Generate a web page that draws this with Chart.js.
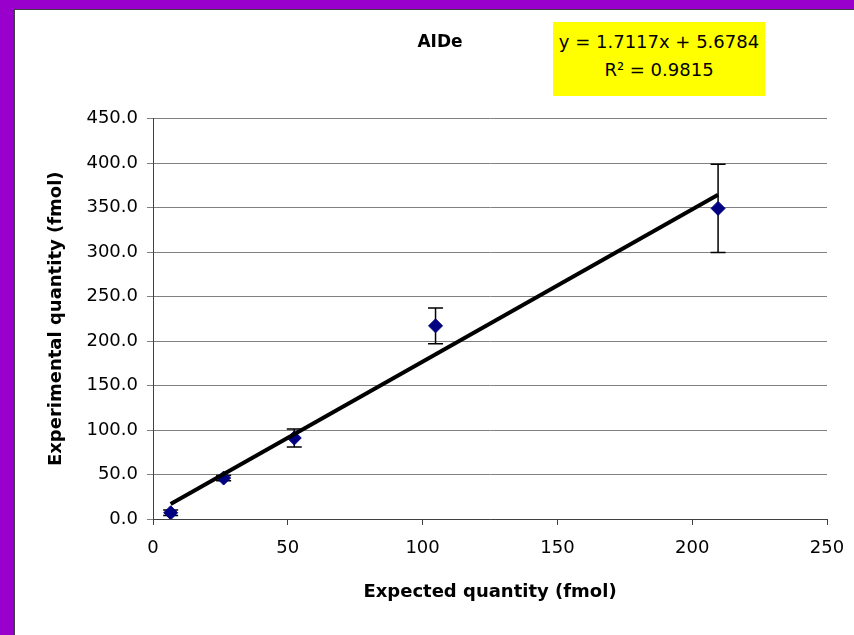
<!DOCTYPE html>
<html><head><meta charset="utf-8">
<script src="https://cdn.jsdelivr.net/npm/chart.js@4.4.0/dist/chart.umd.min.js"></script>
<style>
html,body{margin:0;padding:0;width:854px;height:635px;overflow:hidden;background:#9900CC;}
#inner{position:absolute;left:13px;top:9px;width:900px;height:700px;background:#fff;border-left:2px solid #404040;border-top:1px solid #404040;}
#wrap{position:absolute;left:0;top:0;width:854px;height:635px;}
#title{position:absolute;left:390px;width:100px;top:30px;text-align:center;font-family:"DejaVu Sans";font-weight:bold;font-size:17px;line-height:22px;color:#000;}
#eq{position:absolute;left:553px;top:22px;width:212px;height:74px;background:#FFFF00;font-family:"DejaVu Sans";font-size:18px;line-height:28px;text-align:center;padding-top:6px;box-sizing:border-box;color:#000;}
</style></head>
<body>
<div id="inner"></div>
<div id="wrap"><canvas id="c" width="854" height="635"></canvas></div>
<div id="title">AIDe</div>
<div id="eq"><div>y = 1.7117x + 5.6784</div><div>R² = 0.9815</div></div>
<script>
const expected = [6.55, 26.2, 52.4, 104.8, 209.6];
const experimental = [7, 46, 91, 217, 349];
const errors = [3, 3, 10, 20, 49.5];
const trendSlope = 1.7117;
const trendIntercept = 5.6784;
const xTickValues = [0, 50, 100, 150, 200, 250];
const xTickLabels = ['0', '50', '100', '150', '200', '250'];
const yTickValues = [0, 50, 100, 150, 200, 250, 300, 350, 400, 450];
const yTickLabels = ['0.0', '50.0', '100.0', '150.0', '200.0', '250.0', '300.0', '350.0', '400.0', '450.0'];

const points = expected.map((x, i) => ({x: x, y: experimental[i]}));
const xMin = Math.min(...expected), xMax = Math.max(...expected);
const trend = [xMin, xMax].map(x => ({x: x, y: trendSlope * x + trendIntercept}));

const errorBars = {
  id: 'errorBars',
  beforeDatasetsDraw(chart) {
    const ctx = chart.ctx, xs = chart.scales.x, ys = chart.scales.y;
    ctx.save();
    ctx.strokeStyle = '#000';
    ctx.lineWidth = 1.5;
    expected.forEach((x, i) => {
      const px = xs.getPixelForValue(x);
      const top = ys.getPixelForValue(experimental[i] + errors[i]);
      const bot = ys.getPixelForValue(experimental[i] - errors[i]);
      ctx.beginPath();
      ctx.moveTo(px, top); ctx.lineTo(px, bot);
      ctx.moveTo(px - 7.5, top); ctx.lineTo(px + 7.5, top);
      ctx.moveTo(px - 7.5, bot); ctx.lineTo(px + 7.5, bot);
      ctx.stroke();
    });
    ctx.restore();
  }
};

const tickFont = {family: 'DejaVu Sans', size: 18};
const titleFont = {family: 'DejaVu Sans', size: 18, weight: 'bold'};

new Chart(document.getElementById('c'), {
  type: 'scatter',
  data: {
    datasets: [
      {data: trend, showLine: true, borderColor: '#000', borderWidth: 4, pointRadius: 0, fill: false},
      {data: points, pointStyle: 'rectRot', pointRadius: 7, backgroundColor: '#000080', borderColor: '#000080', borderWidth: 1}
    ]
  },
  options: {
    responsive: false,
    animation: false,
    events: [],
    layout: {padding: {left: 46, right: 27, top: 118.5, bottom: 32}},
    plugins: {legend: {display: false}, tooltip: {enabled: false}},
    scales: {
      x: {
        type: 'linear', min: 0, max: 250,
        afterBuildTicks: s => { s.ticks = xTickValues.map(v => ({value: v})); },
        afterFit: s => { s.height = 84; s.paddingLeft = 0; s.paddingRight = 0; },
        ticks: {color: '#000', font: tickFont, padding: 13, maxRotation: 0,
          callback: v => xTickLabels[xTickValues.indexOf(v)]},
        grid: {drawOnChartArea: false, drawTicks: true, tickLength: 6, color: '#404040'},
        border: {color: '#404040', width: 1},
        title: {display: true, text: 'Expected quantity (fmol)', color: '#000', font: titleFont, padding: 0}
      },
      y: {
        type: 'linear', min: 0, max: 450,
        afterBuildTicks: s => { s.ticks = yTickValues.map(v => ({value: v})); },
        afterFit: s => { s.width = 107; s.paddingTop = 0; s.paddingBottom = 0; },
        ticks: {color: '#000', font: tickFont, padding: 9,
          callback: v => yTickLabels[yTickValues.indexOf(v)]},
        grid: {color: '#808080', lineWidth: 1, tickLength: 6},
        border: {color: '#404040', width: 1},
        title: {display: true, text: 'Experimental quantity (fmol)', color: '#000', font: titleFont, padding: 0}
      }
    }
  },
  plugins: [errorBars]
});
</script>
</body></html>
